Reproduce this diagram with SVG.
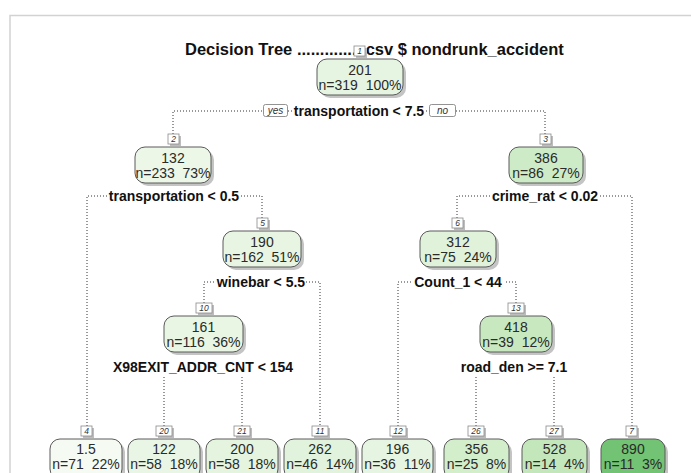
<svg xmlns="http://www.w3.org/2000/svg" width="691" height="473" viewBox="0 0 691 473">
<style>
.frame{fill:none;stroke:#d2d2d2;stroke-width:1.5}
.title{font-family:"Liberation Sans",Arial,sans-serif;font-weight:bold;font-size:16.5px;fill:#111}
.sh{fill:#c4c4c4}
.box{stroke:#5a5a5a;stroke-width:1}
.t{font-family:"Liberation Sans",Arial,sans-serif;font-size:14px;fill:#2a2a2a;text-anchor:middle;white-space:pre}
.nsh{fill:#bdbdbd}
.nb{fill:#fff;stroke:#8a8a8a;stroke-width:0.8}
.nl{font-family:"Liberation Sans",Arial,sans-serif;font-style:italic;font-size:8.5px;fill:#333;text-anchor:middle}
.ln{fill:none;stroke:#333;stroke-width:1;stroke-dasharray:1 2}
.lbg{fill:#fff}
.sp{font-family:"Liberation Sans",Arial,sans-serif;font-weight:bold;font-size:14px;fill:#111;text-anchor:middle}
.yn{fill:#fff;stroke:#777;stroke-width:0.8}
.ynt{font-family:"Liberation Sans",Arial,sans-serif;font-style:italic;font-size:10px;fill:#333;text-anchor:middle}
</style>
<rect x="0" y="0" width="691" height="473" fill="#fff"/>
<path class="frame" d="M10,473 V15.5 H691"/>
<text class="title" x="185" y="55">Decision Tree ...............csv $ nondrunk_accident</text>

<g id="connectors">
<path class="ln" d="M173,134 V111 H545 V134"/>
<path class="ln" d="M87,426 V196 H262 V218"/>
<path class="ln" d="M457,218 V196 H632 V426"/>
<path class="ln" d="M204,303 V282 H320 V426"/>
<path class="ln" d="M398,426 V282 H516 V303"/>
<path class="ln" d="M164,426 V367 H242 V426"/>
<path class="ln" d="M476,426 V367 H554 V426"/>
</g>

<g id="split-labels">
<rect class="yn" x="263.5" y="104.5" width="24" height="12" rx="2"/>
<text class="ynt" x="275.5" y="114">yes</text>
<rect class="yn" x="429.5" y="104.5" width="26" height="12" rx="2"/>
<text class="ynt" x="442.5" y="114">no</text>
<rect class="lbg" x="292" y="103" width="134" height="15"/>
<text class="sp" x="359" y="116">transportation &lt; 7.5</text>
<rect class="lbg" x="107" y="188" width="134" height="15"/>
<text class="sp" x="174" y="201">transportation &lt; 0.5</text>
<rect class="lbg" x="491" y="188" width="108" height="15"/>
<text class="sp" x="545" y="201">crime_rat &lt; 0.02</text>
<rect class="lbg" x="216" y="274" width="90" height="15"/>
<text class="sp" x="261" y="287">winebar &lt; 5.5</text>
<rect class="lbg" x="412" y="274" width="92" height="15"/>
<text class="sp" x="458" y="287">Count_1 &lt; 44</text>
<rect class="lbg" x="112" y="359" width="182" height="16"/>
<text class="sp" x="203" y="372">X98EXIT_ADDR_CNT &lt; 154</text>
<rect class="lbg" x="460" y="359" width="108" height="16"/>
<text class="sp" x="514" y="372">road_den &gt;= 7.1</text>
</g>

<g id="node-1">
<rect class="sh" x="320" y="62" width="86" height="36" rx="10"/>
<rect class="box" x="317" y="59" width="86" height="36" rx="10" fill="#e6f5e1"/>
<rect class="nsh" x="356" y="48" width="11" height="10"/>
<rect class="nb" x="354" y="46" width="11" height="10"/>
<text class="nl" x="359.5" y="54">1</text>
<text class="t" x="360" y="75">201</text>
<text class="t" x="360" y="90">n=319  100%</text>
</g>

<g id="node-2">
<rect class="sh" x="138" y="150" width="76" height="36" rx="10"/>
<rect class="box" x="135" y="147" width="76" height="36" rx="10" fill="#ecf7e8"/>
<rect class="nsh" x="170" y="136" width="11" height="10"/>
<rect class="nb" x="168" y="134" width="11" height="10"/>
<text class="nl" x="173.5" y="142">2</text>
<text class="t" x="173" y="163">132</text>
<text class="t" x="173" y="178">n=233  73%</text>
</g>

<g id="node-3">
<rect class="sh" x="512" y="150" width="74" height="36" rx="10"/>
<rect class="box" x="509" y="147" width="74" height="36" rx="10" fill="#cdebc6"/>
<rect class="nsh" x="542" y="136" width="11" height="10"/>
<rect class="nb" x="540" y="134" width="11" height="10"/>
<text class="nl" x="545.5" y="142">3</text>
<text class="t" x="546" y="163">386</text>
<text class="t" x="546" y="178">n=86  27%</text>
</g>

<g id="node-5">
<rect class="sh" x="226" y="234" width="78" height="36" rx="10"/>
<rect class="box" x="223" y="231" width="78" height="36" rx="10" fill="#e7f5e2"/>
<rect class="nsh" x="259" y="220" width="11" height="10"/>
<rect class="nb" x="257" y="218" width="11" height="10"/>
<text class="nl" x="262.5" y="226">5</text>
<text class="t" x="262" y="247">190</text>
<text class="t" x="262" y="262">n=162  51%</text>
</g>

<g id="node-6">
<rect class="sh" x="423" y="234" width="76" height="36" rx="10"/>
<rect class="box" x="420" y="231" width="76" height="36" rx="10" fill="#e0f2da"/>
<rect class="nsh" x="454" y="220" width="11" height="10"/>
<rect class="nb" x="452" y="218" width="11" height="10"/>
<text class="nl" x="457.5" y="226">6</text>
<text class="t" x="458" y="247">312</text>
<text class="t" x="458" y="262">n=75  24%</text>
</g>

<g id="node-10">
<rect class="sh" x="167" y="319" width="79" height="36" rx="10"/>
<rect class="box" x="164" y="316" width="79" height="36" rx="10" fill="#e9f6e4"/>
<rect class="nsh" x="198" y="305" width="16" height="10"/>
<rect class="nb" x="196" y="303" width="16" height="10"/>
<text class="nl" x="204" y="311">10</text>
<text class="t" x="203.5" y="332">161</text>
<text class="t" x="203.5" y="347">n=116  36%</text>
</g>

<g id="node-13">
<rect class="sh" x="483" y="319" width="72" height="36" rx="10"/>
<rect class="box" x="480" y="316" width="72" height="36" rx="10" fill="#c8e9c0"/>
<rect class="nsh" x="510" y="305" width="16" height="10"/>
<rect class="nb" x="508" y="303" width="16" height="10"/>
<text class="nl" x="516" y="311">13</text>
<text class="t" x="516" y="332">418</text>
<text class="t" x="516" y="347">n=39  12%</text>
</g>

<g id="node-4">
<rect class="sh" x="53" y="442" width="72" height="40" rx="10"/>
<rect class="box" x="50" y="439" width="72" height="40" rx="10" fill="#f5fbf2"/>
<rect class="nsh" x="83" y="428" width="11" height="10"/>
<rect class="nb" x="81" y="426" width="11" height="10"/>
<text class="nl" x="86.5" y="434">4</text>
<text class="t" x="86" y="454">1.5</text>
<text class="t" x="86" y="469">n=71  22%</text>
</g>

<g id="node-20">
<rect class="sh" x="131" y="442" width="72" height="40" rx="10"/>
<rect class="box" x="128" y="439" width="72" height="40" rx="10" fill="#e9f6e5"/>
<rect class="nsh" x="158" y="428" width="16" height="10"/>
<rect class="nb" x="156" y="426" width="16" height="10"/>
<text class="nl" x="164" y="434">20</text>
<text class="t" x="164" y="454">122</text>
<text class="t" x="164" y="469">n=58  18%</text>
</g>

<g id="node-21">
<rect class="sh" x="209" y="442" width="72" height="40" rx="10"/>
<rect class="box" x="206" y="439" width="72" height="40" rx="10" fill="#e4f4df"/>
<rect class="nsh" x="236" y="428" width="16" height="10"/>
<rect class="nb" x="234" y="426" width="16" height="10"/>
<text class="nl" x="242" y="434">21</text>
<text class="t" x="242" y="454">200</text>
<text class="t" x="242" y="469">n=58  18%</text>
</g>

<g id="node-11">
<rect class="sh" x="287" y="442" width="72" height="40" rx="10"/>
<rect class="box" x="284" y="439" width="72" height="40" rx="10" fill="#e1f3dc"/>
<rect class="nsh" x="314" y="428" width="16" height="10"/>
<rect class="nb" x="312" y="426" width="16" height="10"/>
<text class="nl" x="320" y="434">11</text>
<text class="t" x="320" y="454">262</text>
<text class="t" x="320" y="469">n=46  14%</text>
</g>

<g id="node-12">
<rect class="sh" x="365" y="442" width="71" height="40" rx="10"/>
<rect class="box" x="362" y="439" width="71" height="40" rx="10" fill="#e6f5e1"/>
<rect class="nsh" x="392" y="428" width="16" height="10"/>
<rect class="nb" x="390" y="426" width="16" height="10"/>
<text class="nl" x="398" y="434">12</text>
<text class="t" x="397.5" y="454">196</text>
<text class="t" x="397.5" y="469">n=36  11%</text>
</g>

<g id="node-26">
<rect class="sh" x="447" y="442" width="65" height="40" rx="10"/>
<rect class="box" x="444" y="439" width="65" height="40" rx="10" fill="#d3eecb"/>
<rect class="nsh" x="470" y="428" width="16" height="10"/>
<rect class="nb" x="468" y="426" width="16" height="10"/>
<text class="nl" x="476" y="434">26</text>
<text class="t" x="476.5" y="454">356</text>
<text class="t" x="476.5" y="469">n=25  8%</text>
</g>

<g id="node-27">
<rect class="sh" x="525" y="442" width="65" height="40" rx="10"/>
<rect class="box" x="522" y="439" width="65" height="40" rx="10" fill="#c3e7bb"/>
<rect class="nsh" x="548" y="428" width="16" height="10"/>
<rect class="nb" x="546" y="426" width="16" height="10"/>
<text class="nl" x="554" y="434">27</text>
<text class="t" x="554.5" y="454">528</text>
<text class="t" x="554.5" y="469">n=14  4%</text>
</g>

<g id="node-7">
<rect class="sh" x="604" y="442" width="64" height="40" rx="10"/>
<rect class="box" x="601" y="439" width="64" height="40" rx="10" fill="#72c374"/>
<rect class="nsh" x="628" y="428" width="11" height="10"/>
<rect class="nb" x="626" y="426" width="11" height="10"/>
<text class="nl" x="631.5" y="434">7</text>
<text class="t" x="633" y="454">890</text>
<text class="t" x="633" y="469">n=11  3%</text>
</g>
</svg>
